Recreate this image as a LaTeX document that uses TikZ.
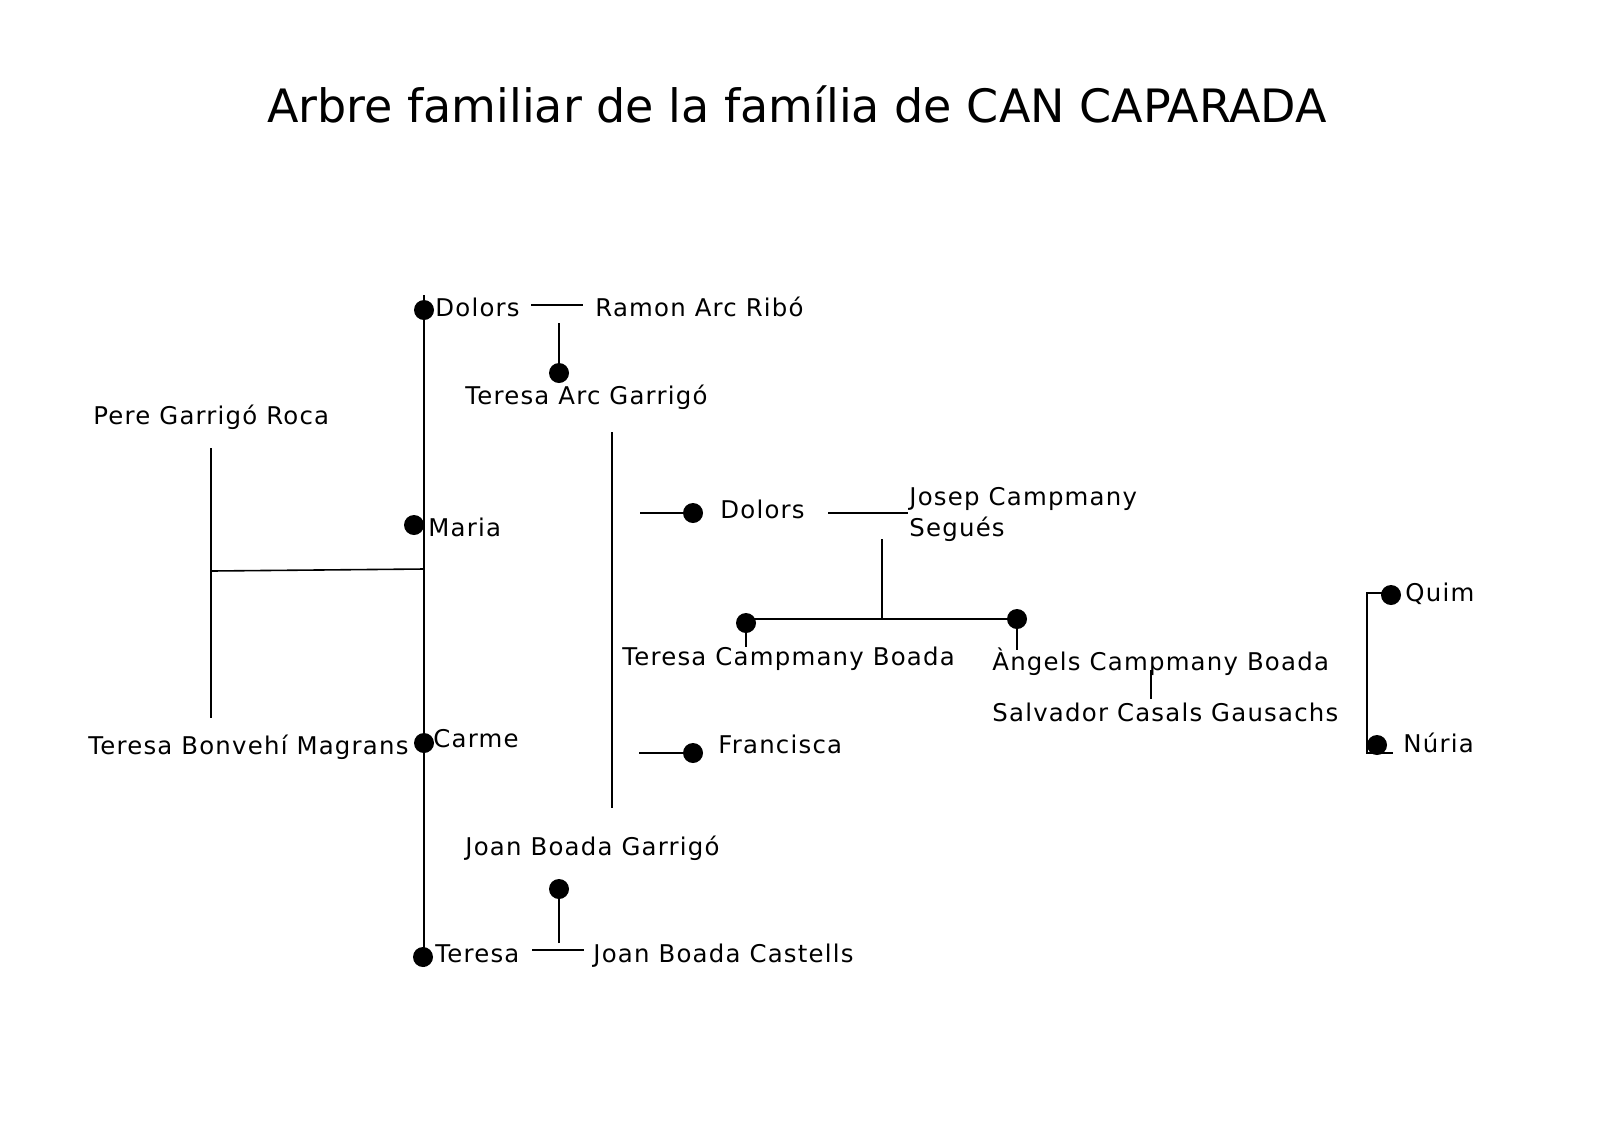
\documentclass[tikz,border=0pt]{standalone}
\usepackage{fontspec}
\setmainfont{DejaVu Sans}
\newfontfamily\persfont[LetterSpace=5]{DejaVu Sans}
\usepackage{tikz}
\usetikzlibrary{positioning}

\begin{document}
\begin{tikzpicture}[x=0.5pt,y=-0.5pt,
  persona/.style={anchor=base west,inner sep=0pt,font=\persfont\fontsize{12.2}{14}\selectfont},
  punt/.style={circle,fill=black,inner sep=0pt,minimum size=10pt},
  lin/.style={line width=0.8pt}]
  \useasboundingbox (0,0) rectangle (1600,1131);

  % title
  \node[anchor=base,inner sep=0pt,font=\fontsize{23}{28}\selectfont] (titol) at (797,122) {Arbre familiar de la família de CAN CAPARADA};

  % main trunk (daughters of Pere and Teresa)
  \coordinate (troncA) at (424,295);
  \coordinate (troncB) at (424,967);
  \draw[lin] (troncA) -- (troncB);

  \node[punt] (dolors1) at (424,310) {};
  \node[persona] (dolors1T) at (435,316) {Dolors};
  \node[punt] (maria) at (414,525) {};
  \node[persona] (mariaT) at (428,536) {Maria};
  \node[punt] (carme) at (424,743) {};
  \node[persona] (carmeT) at (433,747) {Carme};
  \node[punt] (teresa1) at (423,957) {};
  \node[persona] (teresa1T) at (435,962) {Teresa};

  % parents
  \node[persona] (pere) at (93,424) {Pere Garrigó Roca};
  \node[persona] (bonvehi) at (88,754) {Teresa Bonvehí Magrans};
  \coordinate (pareA) at (211,448);
  \coordinate (pareB) at (211,718);
  \coordinate (pareM) at (211,571);
  \coordinate (troncM) at (424,569);
  \draw[lin] (pareA) -- (pareB);
  \draw[lin] (pareM) -- (troncM);

  % Dolors + Ramon
  \node[persona] (ramon) at (595,316) {Ramon Arc Ribó};
  \coordinate (ramonA) at (531,305);
  \coordinate (ramonB) at (583,305);
  \coordinate (ramonM) at (559,323);
  \draw[lin] (ramonA) -- (ramonB);
  \node[punt] (teresaArc) at (559,373) {};
  \node[persona] (teresaArcT) at (465,404) {Teresa Arc Garrigó};
  \draw[lin] (ramonM) -- (teresaArc.center);

  % Teresa + Joan
  \node[persona] (castells) at (593,962) {Joan Boada Castells};
  \coordinate (castellsA) at (532,950);
  \coordinate (castellsB) at (584,950);
  \coordinate (castellsM) at (559,943);
  \draw[lin] (castellsA) -- (castellsB);
  \node[punt] (joan) at (559,889) {};
  \node[persona] (joanT) at (465,855) {Joan Boada Garrigó};
  \draw[lin] (castellsM) -- (joan.center);

  % second generation
  \coordinate (brancaA) at (612,432);
  \coordinate (brancaB) at (612,808);
  \draw[lin] (brancaA) -- (brancaB);

  \coordinate (dolors2L) at (640,513);
  \node[punt] (dolors2) at (693,513) {};
  \node[persona] (dolors2T) at (720,518) {Dolors};
  \draw[lin] (dolors2L) -- (dolors2.center);

  \coordinate (francL) at (639,753);
  \node[punt] (franc) at (693,753) {};
  \node[persona] (francT) at (718,753) {Francisca};
  \draw[lin] (francL) -- (franc.center);

  % Dolors + Josep
  \node[persona] (josep) at (909,505) {Josep Campmany};
  \node[persona] (segues) at (909,536) {Segués};
  \coordinate (josepA) at (828,513);
  \coordinate (josepB) at (908,513);
  \coordinate (josepM) at (882,539);
  \coordinate (fillsM) at (882,619);
  \draw[lin] (josepA) -- (josepB);
  \draw[lin] (josepM) -- (fillsM);

  \node[punt] (teresa2) at (746,623) {};
  \node[punt] (angels) at (1017,619) {};
  \coordinate (fillsL) at (748,619);
  \draw[lin] (fillsL) -- (angels.center);
  \node[persona] (teresa2T) at (622,665) {Teresa Campmany Boada};
  \node[persona] (angelsT) at (992,670) {Àngels Campmany Boada};
  \coordinate (teresa2B) at (746,647);
  \coordinate (angelsB) at (1017,650);
  \draw[lin] (teresa2.center) -- (teresa2B);
  \draw[lin] (angels.center) -- (angelsB);

  % Àngels + Salvador
  \node[persona] (salvador) at (992,721) {Salvador Casals Gausachs};
  \coordinate (salvA) at (1151,670);
  \coordinate (salvB) at (1151,699);
  \draw[lin] (salvA) -- (salvB);

  % third generation
  \node[punt] (quim) at (1391,595) {};
  \node[persona] (quimT) at (1405,601) {Quim};
  \node[punt] (nuria) at (1377,745) {};
  \node[persona] (nuriaT) at (1403,752) {Núria};
  \coordinate (clauQ) at (1385,593);
  \coordinate (clauA) at (1367,593);
  \coordinate (clauB) at (1367,753);
  \coordinate (clauC) at (1393,753);
  \draw[lin] (clauQ) -- (clauA) -- (clauB) -- (clauC);
\end{tikzpicture}
\end{document}
